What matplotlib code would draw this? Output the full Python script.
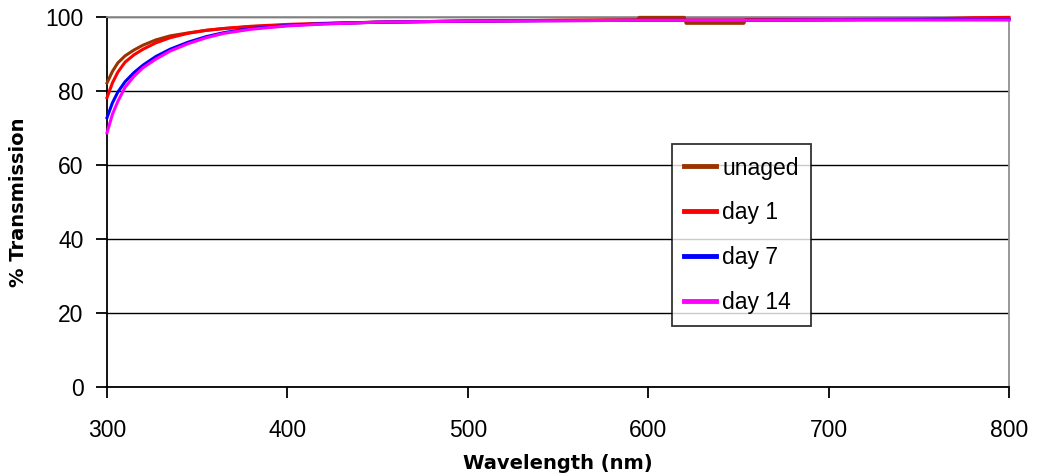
import matplotlib.pyplot as plt

# wavelength (nm) and % transmission
wavelength = [300, 303, 306, 310, 315, 320, 327, 335, 345, 355, 365, 380, 400,
              420, 450, 500, 550, 594, 595, 620, 621, 653, 654, 700, 750, 780, 800]

unaged = [82.2, 85.3, 87.6, 89.5, 91.1, 92.4, 93.8, 94.9, 95.7, 96.4, 96.9, 97.4, 97.8,
          98.2, 98.6, 98.9, 99.1, 99.2, 99.9, 99.9, 98.3, 98.3, 99.3, 99.3, 99.4, 99.5, 99.5]
day1 = [78.2, 82.2, 85.1, 87.8, 89.8, 91.3, 93.0, 94.4, 95.6, 96.4, 96.9, 97.5, 98.0,
        98.3, 98.6, 98.9, 99.1, 99.2, 99.2, 99.2, 99.2, 99.2, 99.2, 99.3, 99.4, 99.8, 99.9]
day7 = [72.8, 76.8, 79.7, 82.5, 85.0, 87.0, 89.3, 91.3, 93.2, 94.7, 95.8, 96.9, 97.7,
        98.2, 98.6, 98.9, 99.0, 99.1, 99.1, 99.1, 99.1, 99.1, 99.1, 99.2, 99.3, 99.3, 99.3]
day14 = [68.7, 73.7, 77.2, 81.0, 84.0, 86.3, 88.6, 90.8, 92.8, 94.4, 95.6, 96.7, 97.6,
         98.1, 98.6, 98.9, 99.0, 99.1, 99.1, 99.1, 99.1, 99.1, 99.1, 99.2, 99.2, 99.2, 99.2]

series = [("unaged", unaged, "#993300"),
          ("day 1", day1, "#ff0000"),
          ("day 7", day7, "#0000ff"),
          ("day 14", day14, "#ff00ff")]

plt.rcParams['font.family'] = ['Liberation Sans', 'DejaVu Sans']

fig = plt.figure(figsize=(10.37, 4.75), dpi=100)
ax = fig.add_axes([0.1032, 0.1853, 0.8698, 0.7789])

for label, vals, color in series:
    ax.plot(wavelength, vals, color=color, lw=2.2, label=label, clip_on=False, zorder=3)

ax.set_xlim(300, 800)
ax.set_ylim(0, 100)
ax.set_xticks(range(300, 801, 100))
ax.set_yticks(range(0, 101, 20))
ax.yaxis.grid(True, color='black', lw=1.0)
ax.set_axisbelow(True)

for side in ['left', 'bottom']:
    ax.spines[side].set_color('black')
    ax.spines[side].set_linewidth(1.3)
for side in ['top', 'right']:
    ax.spines[side].set_color('#909090')
    ax.spines[side].set_linewidth(1.3)

ax.tick_params(axis='y', length=8, width=1.3, pad=9, labelsize=16.5)
ax.tick_params(axis='x', length=8, width=1.3, pad=15, labelsize=16.5)

ax.set_xlabel('Wavelength (nm)', fontsize=14, fontweight='bold', family='DejaVu Sans',
              labelpad=9)
ax.set_ylabel('% Transmission', fontsize=14, fontweight='bold', family='DejaVu Sans',
              labelpad=12)

leg = ax.legend(loc='upper left', bbox_to_anchor=(0.626, 0.657), borderaxespad=0,
                fontsize=16.5, frameon=True, fancybox=False, edgecolor='black',
                handlelength=1.4, handletextpad=0.25, labelspacing=0.95,
                borderpad=0.55)
leg.get_frame().set_linewidth(1.3)
for line in leg.get_lines():
    line.set_linewidth(3.5)

fig.savefig('out.png', dpi=100)
